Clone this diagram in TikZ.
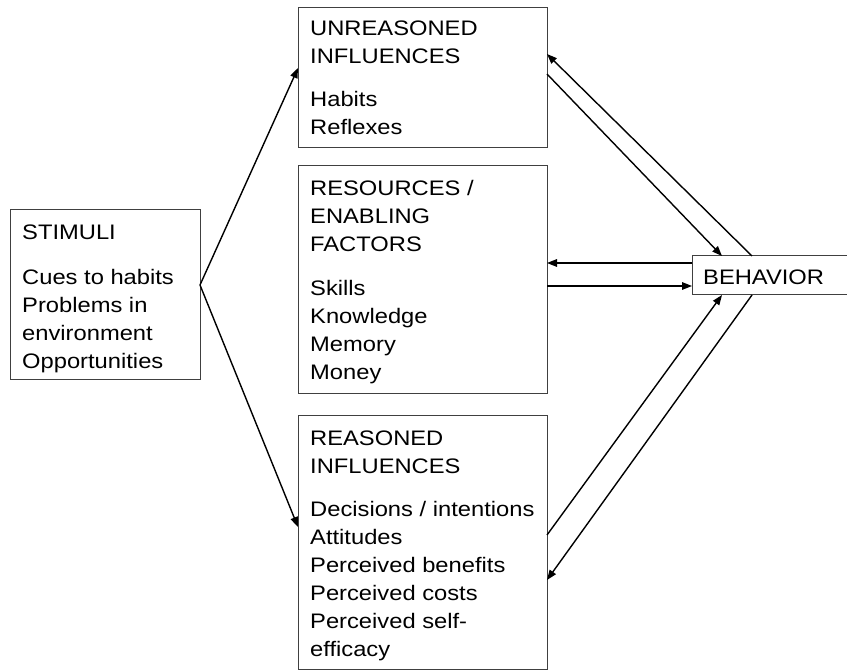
\documentclass[tikz,border=0pt]{standalone}
\usepackage{fontspec}
\setmainfont{Liberation Sans}[FakeStretch=1.13]
\usetikzlibrary{arrows.meta}
\begin{document}
\begin{tikzpicture}[x=1pt,y=-1pt,
  box/.style={draw=black!75, line width=1pt, anchor=north west, inner sep=0pt, outer sep=0pt},
  txt/.style={anchor=base west, inner sep=0pt, font=\fontsize{21}{28}\selectfont},
  arr/.style={line width=1.4pt, -{Triangle[length=10pt,width=7.5pt]}},
  ln/.style={line width=1.4pt}]
\useasboundingbox (0,0) rectangle (847,671);
% boxes
\node[box, minimum width=190pt, minimum height=170pt] (stim) at (10,210) {};
\node[box, minimum width=249pt, minimum height=140pt] (unr) at (298,8) {};
\node[box, minimum width=249pt, minimum height=227pt] (res) at (298,166) {};
\node[box, minimum width=249pt, minimum height=254pt] (rea) at (298,415) {};
\node[box, minimum width=160pt, minimum height=39pt] (beh) at (692,256) {};
% texts
\node[txt] (s1) at (22,240) {STIMULI};
\node[txt] (s2) at (22,284.5) {Cues to habits};
\node[txt] (s3) at (22,312.5) {Problems in};
\node[txt] (s4) at (22,340.5) {environment};
\node[txt] (s5) at (22,368.5) {Opportunities};
\node[txt] (u1) at (310,35.3) {UNREASONED};
\node[txt] (u2) at (310,63.3) {INFLUENCES};
\node[txt] (u3) at (310,106.3) {Habits};
\node[txt] (u4) at (310,134.3) {Reflexes};
\node[txt] (r1) at (310,196) {RESOURCES /};
\node[txt] (r2) at (310,224) {ENABLING};
\node[txt] (r3) at (310,252) {FACTORS};
\node[txt] (r4) at (310,296) {Skills};
\node[txt] (r5) at (310,324) {Knowledge};
\node[txt] (r6) at (310,352) {Memory};
\node[txt] (r7) at (310,380) {Money};
\node[txt] (e1) at (310,445) {REASONED};
\node[txt] (e2) at (310,473) {INFLUENCES};
\node[txt] (e3) at (310,516) {Decisions / intentions};
\node[txt] (e4) at (310,544) {Attitudes};
\node[txt] (e5) at (310,572) {Perceived benefits};
\node[txt] (e6) at (310,600) {Perceived costs};
\node[txt] (e7) at (310,628) {Perceived self-};
\node[txt] (e8) at (310,656) {efficacy};
\node[txt] (b1) at (703,284.5) {BEHAVIOR};
% connection points
\coordinate (sp) at (200,285);
\coordinate (u_in) at (298,68);
\coordinate (e_in) at (298,527);
\coordinate (bt1) at (752,256);
\coordinate (bt2) at (722,256);
\coordinate (u_r1) at (547,54);
\coordinate (u_r2) at (547,74);
\coordinate (bl1) at (692,263);
\coordinate (bl2) at (692,286);
\coordinate (r_r1) at (547,263);
\coordinate (r_r2) at (547,286);
\coordinate (bb1) at (722,295);
\coordinate (bb2) at (752,295);
\coordinate (e_r1) at (547,535);
\coordinate (e_r2) at (547,580);
% arrows
\draw[arr] (sp) -- (u_in);
\draw[arr] (sp) -- (e_in);
\draw[arr] (bt1) -- (u_r1);
\draw[arr] (u_r2) -- (bt2);
\draw[arr] (bl1) -- (r_r1);
\draw[arr] (r_r2) -- (bl2);
\draw[arr] (e_r1) -- (bb1);
\draw[arr] (bb2) -- (e_r2);
\end{tikzpicture}
\end{document}
